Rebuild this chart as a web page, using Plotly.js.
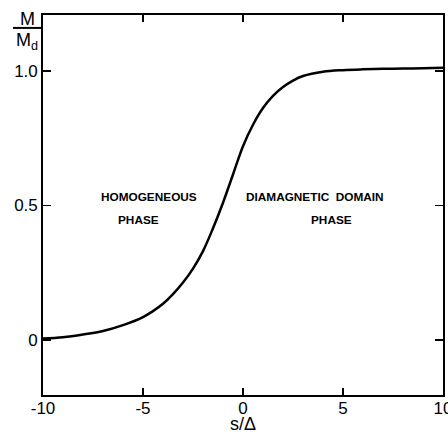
<!DOCTYPE html>
<html><head><meta charset="utf-8">
<script src="https://cdn.plot.ly/plotly-3.0.1.min.js"></script>
<style>html,body{margin:0;padding:0;background:#fff}</style>
</head><body><div id="chart" style="width:448px;height:434px"></div>
<script>
const sOverDelta = [-10,-9,-8,-7,-6,-5,-4.5,-4,-3.5,-3,-2.5,-2,-1.5,-1,-0.5,0,0.5,1,1.5,2,2.5,3,4,5,6,7,8,9,10];
const magnetization = [0.005,0.01,0.02,0.033,0.055,0.085,0.107,0.134,0.17,0.213,0.265,0.33,0.415,0.51,0.615,0.72,0.80,0.862,0.907,0.94,0.964,0.981,0.997,1.003,1.006,1.008,1.009,1.01,1.012];
const xTicks = [-10,-5,0,5,10];
const xTickLabels = ["-10","-5","0","5","10"];
const yTicks = [0,0.5,1.0];
const yTickLabels = ["0","0.5","1.0"];

const font = {family:"Liberation Sans, Arial, sans-serif", color:"#000"};
const f = (size, weight) => Object.assign({size:size, weight:weight||"normal"}, font);
const trace = {x:sOverDelta, y:magnetization, mode:"lines", line:{color:"#000", width:2.5, shape:"spline", smoothing:1}, hoverinfo:"skip"};

const layout = {
  width:448, height:434,
  margin:{l:43, r:5, t:15, b:39},
  paper_bgcolor:"#fff", plot_bgcolor:"#fff",
  showlegend:false,
  font:f(16),
  xaxis:{range:[-10,10], tickvals:xTicks, ticktext:xTickLabels, ticks:"inside", ticklen:7, tickwidth:1.5, tickcolor:"#000",
    showline:true, linecolor:"#000", linewidth:1.8, mirror:"allticks", showgrid:false, zeroline:false,
    tickfont:f(17), ticklabeloverflow:"allow", ticklabelstandoff:-3,
    title:{text:"s/Δ", font:f(18), standoff:0}},
  yaxis:{range:[-0.205,1.208], tickvals:yTicks, ticktext:yTickLabels, ticks:"inside", ticklen:8, tickwidth:1.5, tickcolor:"#000",
    showline:true, linecolor:"#000", linewidth:1.8, mirror:"allticks", showgrid:false, zeroline:false,
    tickfont:f(17)},
  annotations:[
    {x:-4.7, y:0.532, xref:"x", yref:"y", text:"HOMOGENEOUS", showarrow:false, font:f(11.8,"bold")},
    {x:-5.25, y:0.446, xref:"x", yref:"y", text:"PHASE", showarrow:false, font:f(11.8,"bold")},
    {x:3.6, y:0.532, xref:"x", yref:"y", text:"DIAMAGNETIC  DOMAIN", showarrow:false, font:f(11.8,"bold")},
    {x:4.4, y:0.446, xref:"x", yref:"y", text:"PHASE", showarrow:false, font:f(11.8,"bold")},
    {x:-0.04, y:0.989, xref:"paper", yref:"paper", xanchor:"center", yanchor:"middle", text:"M", showarrow:false, font:f(18)},
    {x:-0.04, y:0.93, xref:"paper", yref:"paper", xanchor:"center", yanchor:"middle", text:"M<sub>d</sub>", showarrow:false, font:f(18)}
  ],
  shapes:[
    {type:"line", xref:"paper", yref:"paper", x0:-0.075, x1:-0.005, y0:0.966, y1:0.966, line:{color:"#000", width:2}}
  ]
};
Plotly.newPlot("chart", [trace], layout, {staticPlot:true, displayModeBar:false});
</script></body></html>
